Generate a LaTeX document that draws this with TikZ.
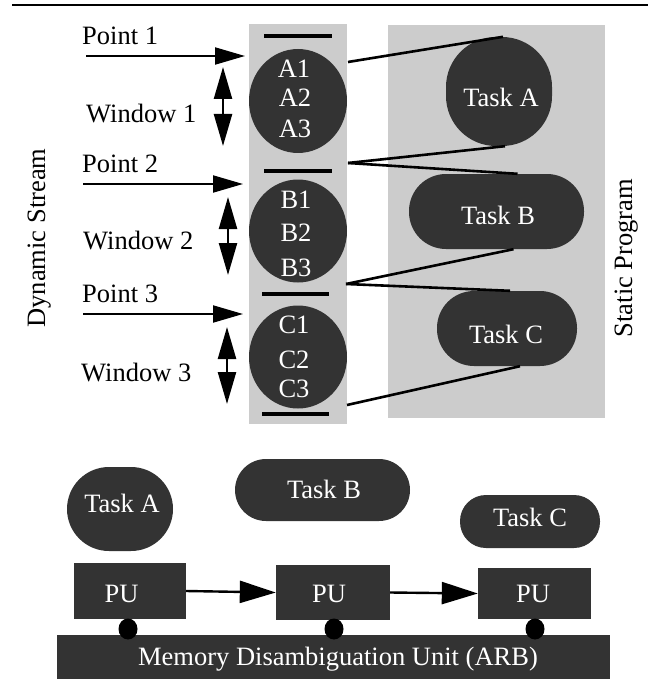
\documentclass[tikz,border=0pt]{standalone}
\usepackage{fontspec}
\setmainfont{Liberation Serif}
\usetikzlibrary{arrows.meta,shapes.geometric}
\definecolor{dk}{HTML}{333333}
\definecolor{lg}{HTML}{CCCCCC}
\begin{document}
\begin{tikzpicture}[x=1pt,y=-1pt,
  fnt/.style={font=\fontsize{26.5}{30}\selectfont},
  graybox/.style={rectangle, fill=lg, draw=none, inner sep=0pt},
  darkbox/.style={rectangle, fill=dk, draw=none, inner sep=0pt},
  darkell/.style={ellipse, fill=dk, draw=none, inner sep=0pt},
  wtext/.style={fnt, text=white, anchor=base, inner sep=0pt},
  btext/.style={fnt, text=black, anchor=base west, inner sep=0pt},
  rtext/.style={fnt, text=black, anchor=base, inner sep=0pt, rotate=90},
  conn/.style={line width=2.6pt},
  ptarrow/.style={line width=2pt, -{Triangle[length=30pt,width=17pt]}},
  winarrow/.style={line width=2.4pt, {Triangle[length=32pt,width=18pt]}-{Triangle[length=32pt,width=18pt]}},
  puarrow/.style={line width=2.4pt, -{Triangle[length=36pt,width=22pt]}},
  bar/.style={line width=3.2pt},
  dot/.style={ellipse, fill=black, draw=none, inner sep=0pt, minimum width=19pt, minimum height=21pt}]
\useasboundingbox (0,0) rectangle (657,679);
% top rule
\coordinate (r1) at (12,5);
\coordinate (r2) at (648,5);
\draw[line width=2.5pt] (r1) -- (r2);
% gray columns
\node[graybox, minimum width=98pt, minimum height=400pt] (col) at (298,224) {};
\node[graybox, minimum width=217pt, minimum height=393pt] (prog) at (496.5,221.5) {};
% bars
\coordinate (b1a) at (264,36); \coordinate (b1b) at (332,36);
\coordinate (b2a) at (264,171); \coordinate (b2b) at (332,171);
\coordinate (b3a) at (262,294); \coordinate (b3b) at (329,294);
\coordinate (b4a) at (262,414); \coordinate (b4b) at (329,414);
\draw[bar] (b1a) -- (b1b);
\draw[bar] (b2a) -- (b2b);
\draw[bar] (b3a) -- (b3b);
\draw[bar] (b4a) -- (b4b);
% window circles
\node[darkell, minimum width=98pt, minimum height=104pt] (wa) at (298,101) {};
\node[darkell, minimum width=98pt, minimum height=103pt] (wb) at (298,231) {};
\node[darkell, minimum width=98pt, minimum height=103pt] (wc) at (298,357) {};
\node[wtext] (a1) at (294,78) {A1};
\node[wtext] (a2) at (295,107) {A2};
\node[wtext] (a3) at (295,138) {A3};
\node[wtext] (bb1) at (296,208) {B1};
\node[wtext] (bb2) at (296,241) {B2};
\node[wtext] (bb3) at (296,276) {B3};
\node[wtext] (c1) at (294,333) {C1};
\node[wtext] (c2) at (294,368) {C2};
\node[wtext] (c3) at (294,397) {C3};
% static program tasks
\node[darkbox, rounded corners=50pt, minimum width=106pt, minimum height=109pt] (rta) at (499,91.5) {};
\node[darkbox, rounded corners=37pt, minimum width=175pt, minimum height=75pt] (rtb) at (496.5,211.5) {};
\node[darkbox, rounded corners=37pt, minimum width=140pt, minimum height=75pt] (rtc) at (507,328.5) {};
\node[wtext] (rtal) at (501,107) {Task A};
\node[wtext] (rtbl) at (498,224) {Task B};
\node[wtext] (rtcl) at (506,343) {Task C};
% connectors
\coordinate (s1) at (348,62);
\coordinate (s2) at (348,163);
\coordinate (s3) at (346,284);
\coordinate (s4) at (347,405);
\draw[conn] (s1) -- ([xshift=4pt]rta.north);
\draw[conn] (s2) -- ([xshift=6pt]rta.south);
\draw[conn] (s2) -- ([xshift=21pt]rtb.north);
\draw[conn] (s3) -- ([xshift=17pt]rtb.south);
\draw[conn] (s3) -- ([xshift=3pt]rtc.north);
\draw[conn] (s4) -- ([xshift=13pt]rtc.south);
% point arrows
\coordinate (p1s) at (86,56); \coordinate (p1e) at (245,56);
\coordinate (p2s) at (83,184); \coordinate (p2e) at (243,184);
\coordinate (p3s) at (83,314); \coordinate (p3e) at (243,314);
\draw[ptarrow] (p1s) -- (p1e);
\draw[ptarrow] (p2s) -- (p2e);
\draw[ptarrow] (p3s) -- (p3e);
\node[btext] (pt1) at (82,45) {Point 1};
\node[btext] (pt2) at (82,172) {Point 2};
\node[btext] (pt3) at (82,302) {Point 3};
% window arrows
\coordinate (w1t) at (223,67); \coordinate (w1b) at (223,146);
\coordinate (w2t) at (228,197); \coordinate (w2b) at (228,275);
\coordinate (w3t) at (227,327); \coordinate (w3b) at (227,404);
\draw[winarrow] (w1t) -- (w1b);
\draw[winarrow] (w2t) -- (w2b);
\draw[winarrow] (w3t) -- (w3b);
\node[btext] (wn1) at (86,123) {Window 1};
\node[btext] (wn2) at (83,249) {Window 2};
\node[btext] (wn3) at (81,381) {Window 3};
% rotated labels
\node[rtext] (dyn) at (45,238) {Dynamic Stream};
\node[rtext] (stat) at (632,258) {Static Program};
% bottom tasks
\node[darkbox, rounded corners=42pt, minimum width=106pt, minimum height=84pt] (bta) at (120,509) {};
\node[darkbox, rounded corners=31pt, minimum width=175pt, minimum height=62pt] (btb) at (322.5,490) {};
\node[darkbox, rounded corners=26pt, minimum width=140pt, minimum height=53pt] (btc) at (530,521.5) {};
\node[wtext] (btal) at (122,512) {Task A};
\node[wtext] (btbl) at (324,498) {Task B};
\node[wtext] (btcl) at (530,526) {Task C};
% PUs
\node[darkbox, minimum width=112pt, minimum height=56pt] (pu1) at (130,591) {};
\node[darkbox, minimum width=114pt, minimum height=55pt] (pu2) at (333,592.5) {};
\node[darkbox, minimum width=113pt, minimum height=51pt] (pu3) at (534.5,593.5) {};
\node[wtext] (pu1l) at (121.5,602) {PU};
\node[wtext] (pu2l) at (329,602) {PU};
\node[wtext] (pu3l) at (533,602) {PU};
\draw[puarrow] (pu1.east) -- (pu2.west);
\draw[puarrow] (pu2.east) -- (pu3.west);
% memory unit
\node[darkbox, minimum width=553pt, minimum height=46pt, anchor=north west] (mdu) at (57,635) {};
\node[wtext] (mdul) at (338,665) {Memory Disambiguation Unit (ARB)};
\node[dot] (d1) at (128,629) {};
\node[dot] (d2) at (334,629) {};
\node[dot] (d3) at (535,629) {};
\end{tikzpicture}
\end{document}
